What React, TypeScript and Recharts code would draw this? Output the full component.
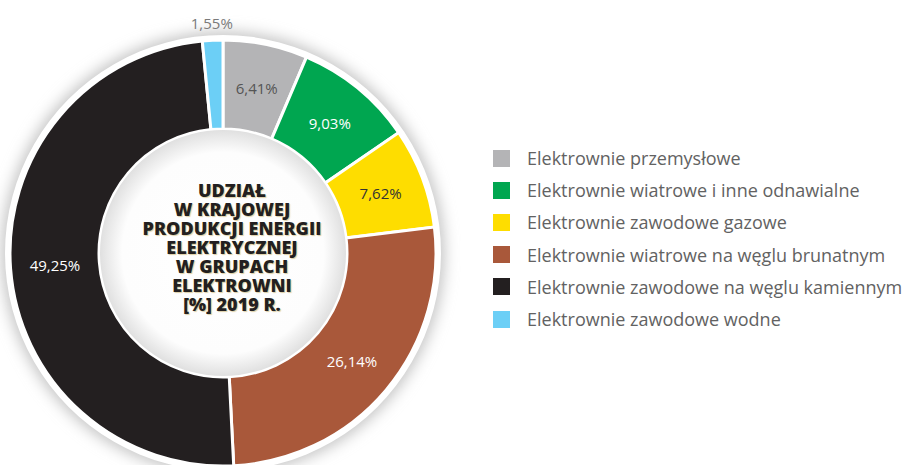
import React from 'react';
import { PieChart, Pie, Cell, Legend } from 'recharts';

const categories = [
  'Elektrownie przemysłowe',
  'Elektrownie wiatrowe i inne odnawialne',
  'Elektrownie zawodowe gazowe',
  'Elektrownie wiatrowe na węglu brunatnym',
  'Elektrownie zawodowe na węglu kamiennym',
  'Elektrownie zawodowe wodne',
];
const shares = [6.41, 9.03, 7.62, 26.14, 49.25, 1.55];
const shareLabels = ['6,41%', '9,03%', '7,62%', '26,14%', '49,25%', '1,55%'];
const colors = ['#b4b4b6', '#00a650', '#fedd00', '#a9583a', '#231f20', '#6ccff6'];
const labelColors = ['#555555', '#ffffff', '#333333', '#ffffff', '#ffffff', '#7a7a7a'];
const titleLines = [
  'UDZIAŁ',
  'W KRAJOWEJ',
  'PRODUKCJI ENERGII',
  'ELEKTRYCZNEJ',
  'W GRUPACH',
  'ELEKTROWNI',
  '[%] 2019 R.',
];

const chartData = categories.map((name, i) => ({ name, value: shares[i] }));

const RADIAN = Math.PI / 180;
const CX = 223;
const CY = 253;

const renderLabel = (props: any) => {
  const { cx, cy, midAngle, innerRadius, outerRadius, index } = props;
  const outside = index === shares.length - 1;
  const r = outside ? outerRadius + 17 : (innerRadius + outerRadius) / 2;
  const x = cx + r * Math.cos(-midAngle * RADIAN);
  const y = cy + r * Math.sin(-midAngle * RADIAN);
  return (
    <text
      x={x}
      y={y}
      fill={labelColors[index]}
      textAnchor="middle"
      dominantBaseline="central"
      fontFamily="'Open Sans', sans-serif"
      fontSize={15}
    >
      {shareLabels[index]}
    </text>
  );
};

const LegendList = () => (
  <div style={{ fontFamily: "'Open Sans', sans-serif", fontSize: 18, color: '#626262' }}>
    {categories.map((name, i) => (
      <div key={name} style={{ display: 'flex', alignItems: 'center', height: 32.2 }}>
        <span style={{ width: 17, height: 17, background: colors[i], marginRight: 17, flexShrink: 0 }} />
        <span style={{ whiteSpace: 'nowrap' }}>{name}</span>
      </div>
    ))}
  </div>
);

export default function App() {
  return (
    <div style={{ position: 'absolute', left: 0, top: 0, width: 908, height: 465, background: '#fff' }}>
      <PieChart width={908} height={465} margin={{ top: 0, right: 0, bottom: 0, left: 0 }}>
        <defs>
          <filter id="ringShadow" x="-20%" y="-20%" width="140%" height="140%">
            <feGaussianBlur stdDeviation="7" />
          </filter>
          <radialGradient id="innerShade" cx="50%" cy="50%" r="50%">
            <stop offset="0%" stopColor="#ffffff" />
            <stop offset="82%" stopColor="#fdfdfd" />
            <stop offset="100%" stopColor="#e0e0e0" />
          </radialGradient>
        </defs>
        <Pie
          data={[{ value: 1 }]}
          dataKey="value"
          cx={CX}
          cy={CY}
          innerRadius={0}
          outerRadius={222}
          fill="#c8c8c8"
          stroke="none"
          filter="url(#ringShadow)"
          isAnimationActive={false}
          legendType="none"
        />
        <Pie
          data={[{ value: 1 }]}
          dataKey="value"
          cx={CX}
          cy={CY}
          innerRadius={0}
          outerRadius={218}
          fill="#ffffff"
          stroke="none"
          isAnimationActive={false}
          legendType="none"
        />
        <Pie
          data={chartData}
          dataKey="value"
          nameKey="name"
          cx={CX}
          cy={CY}
          innerRadius={124}
          outerRadius={213}
          startAngle={90}
          endAngle={-270}
          stroke="#ffffff"
          strokeWidth={3}
          label={renderLabel}
          labelLine={false}
          isAnimationActive={false}
        >
          {chartData.map((d, i) => (
            <Cell key={d.name} fill={colors[i]} />
          ))}
        </Pie>
        <Pie
          data={[{ value: 1 }]}
          dataKey="value"
          cx={CX}
          cy={CY}
          innerRadius={0}
          outerRadius={123}
          fill="url(#innerShade)"
          stroke="none"
          isAnimationActive={false}
          legendType="none"
        />
        <Legend
          layout="vertical"
          align="right"
          verticalAlign="top"
          content={<LegendList />}
          wrapperStyle={{ left: 493, top: 142, width: 415 }}
        />
      </PieChart>
      <div
        style={{
          position: 'absolute',
          left: 127,
          top: 181,
          width: 210,
          textAlign: 'center',
          fontFamily: "'Open Sans', sans-serif",
          fontWeight: 800,
          fontSize: 18,
          lineHeight: '19px',
          color: '#231f20',
          textShadow: '1px 1px 1px rgba(160,120,0,0.35)',
        }}
      >
        {titleLines.map((line) => (
          <div key={line}>{line}</div>
        ))}
      </div>
    </div>
  );
}
